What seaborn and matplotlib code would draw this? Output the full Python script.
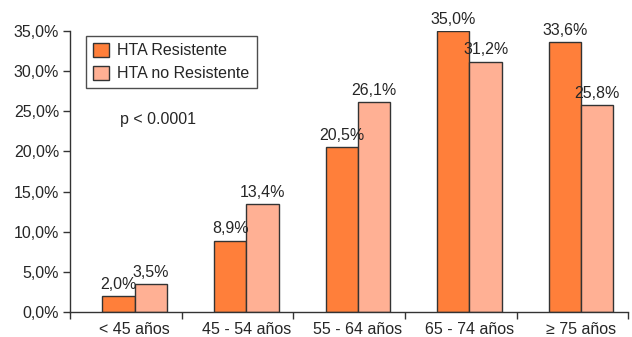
import pandas as pd
import matplotlib.pyplot as plt
import seaborn as sns
from matplotlib.ticker import FuncFormatter, FixedLocator

# Datos
grupos = ["< 45 años", "45 - 54 años", "55 - 64 años", "65 - 74 años", "≥ 75 años"]
resistente = [2.0, 8.9, 20.5, 35.0, 33.6]
no_resistente = [3.5, 13.4, 26.1, 31.2, 25.8]
series = ["HTA Resistente", "HTA no Resistente"]
colores = ["#FF7F3A", "#FFB094"]

df = pd.DataFrame({
    "grupo": grupos * 2,
    "valor": resistente + no_resistente,
    "serie": [series[0]] * len(grupos) + [series[1]] * len(grupos),
})

sns.set_style("white")
plt.rcParams["font.family"] = ["Liberation Sans", "DejaVu Sans"]

fig = plt.figure(figsize=(6.32, 3.37), dpi=100)
ax = fig.add_axes([0.111, 0.074, 0.883, 0.834])

sns.barplot(data=df, x="grupo", y="valor", hue="serie", palette=colores,
            saturation=1, width=0.58, edgecolor="#333333", linewidth=1.0,
            ax=ax, legend=True)

for cont in ax.containers:
    ax.bar_label(cont, labels=[f"{v:.1f}%".replace(".", ",") for v in cont.datavalues],
                 padding=3, fontsize=11.5)

ax.set_ylim(0, 35)
x0 = -0.578
ax.set_xlim(x0, x0 + len(grupos))
ax.set_yticks([0, 5, 10, 15, 20, 25, 30, 35])
ax.yaxis.set_major_formatter(FuncFormatter(lambda v, p: f"{v:.1f}%".replace(".", ",")))
ax.tick_params(axis="y", length=5, width=1, color="#333333", left=True, labelsize=11.5, pad=3)
ax.tick_params(axis="x", which="major", length=0, labelsize=11.5, pad=7)
ax.xaxis.set_minor_locator(FixedLocator([x0 + i for i in range(len(grupos) + 1)]))
ax.tick_params(axis="x", which="minor", length=5, width=1, color="#333333", bottom=True)

ax.set_xlabel("")
ax.set_ylabel("")
for s in ["top", "right"]:
    ax.spines[s].set_visible(False)
for s in ["left", "bottom"]:
    ax.spines[s].set_color("#333333")
    ax.spines[s].set_linewidth(1)

leg = ax.legend(loc="upper left", bbox_to_anchor=(0.014, 1.012), fontsize=11.5,
                frameon=True, fancybox=False, edgecolor="#222222",
                handlelength=1.0, handleheight=1.0, handletextpad=0.5,
                borderpad=0.45, labelspacing=0.45)
leg.get_frame().set_linewidth(1)

ax.text(0.09, 0.67, "p < 0.0001", transform=ax.transAxes, fontsize=11.5)

plt.savefig("out.png", dpi=100)
plt.close()
